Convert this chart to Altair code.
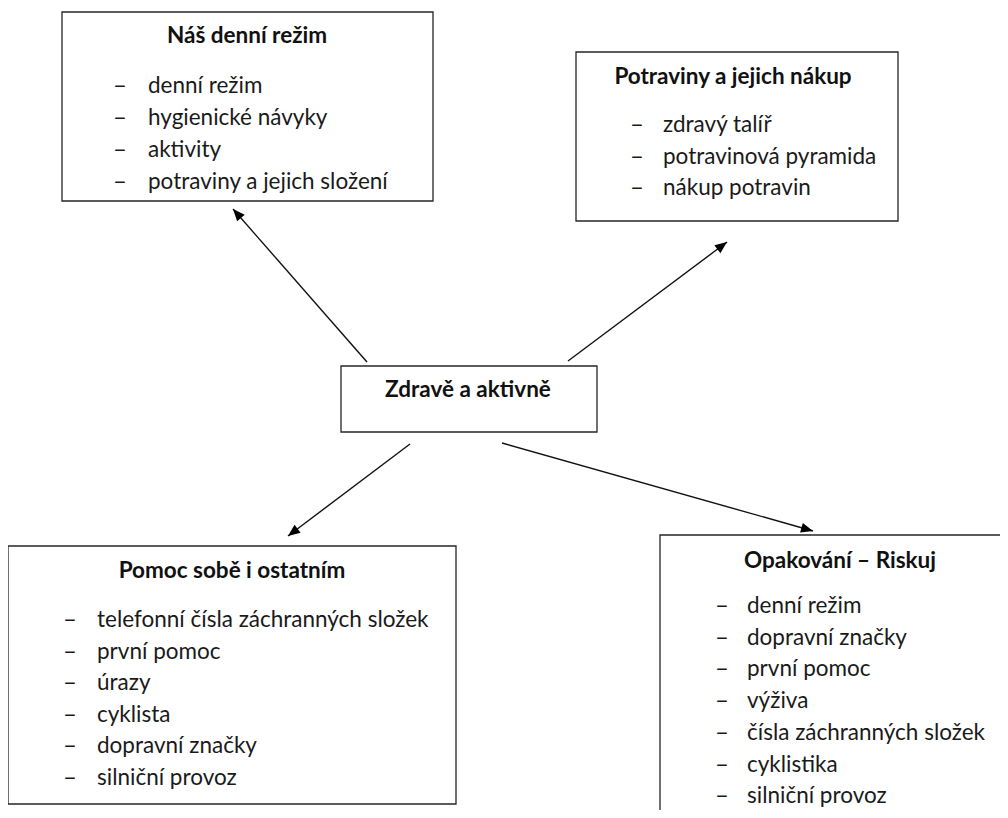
import math
import altair as alt
import pandas as pd

# ---- content (text values) ----
titles = ["Náš denní režim", "Potraviny a jejich nákup", "Zdravě a aktivně",
          "Pomoc sobě i ostatním", "Opakování – Riskuj"]
items_1 = ["denní režim", "hygienické návyky", "aktivity", "potraviny a jejich složení"]
items_2 = ["zdravý talíř", "potravinová pyramida", "nákup potravin"]
items_3 = []
items_4 = ["telefonní čísla záchranných složek", "první pomoc", "úrazy", "cyklista",
           "dopravní značky", "silniční provoz"]
items_5 = ["denní režim", "dopravní značky", "první pomoc", "výživa",
           "čísla záchranných složek", "cyklistika", "silniční provoz"]
items = [items_1, items_2, items_3, items_4, items_5]

# ---- layout (page pixel coordinates) ----
box_x = [62, 576, 341, 8, 660]
box_x2 = [433, 898, 597, 456, 1015]
box_y = [12, 52, 366, 546, 535]
box_y2 = [201, 221, 432, 804, 830]
title_cx = [247, 733, 468, 232, 840]
title_base = [43, 84, 397, 578, 568]
dash_x = [113, 630, 0, 63, 715]
text_x = [148, 663, 0, 97, 747]
first_base = [93, 132, 0, 627, 613]
line_step = [32, 31.5, 0, 31.6, 31.7]

arrow_from_x = [367, 568, 410, 502]
arrow_from_y = [362, 361, 444, 443]
arrow_to_x = [233, 727, 288, 813]
arrow_to_y = [209, 242, 536, 531]

W, H = 992, 802
X0, Y0 = 8, 8
xs = alt.Scale(domain=[X0, X0 + W], nice=False, zero=False)
ys = alt.Scale(domain=[Y0, Y0 + H], nice=False, zero=False, reverse=True)

boxes = pd.DataFrame({"x": box_x, "x2": box_x2, "y": box_y, "y2": box_y2})
title_df = pd.DataFrame({"x": title_cx, "y": title_base, "t": titles})

rows, dashes = [], []
for i, lst in enumerate(items):
    for k, t in enumerate(lst):
        yb = first_base[i] + k * line_step[i]
        rows.append({"x": text_x[i], "y": yb, "t": t})
        dashes.append({"x": dash_x[i], "y": yb, "t": "–"})
item_df = pd.DataFrame(rows)
dash_df = pd.DataFrame(dashes)

arr = pd.DataFrame({"x": arrow_from_x, "y": arrow_from_y,
                    "x2": arrow_to_x, "y2": arrow_to_y})
arr["angle"] = [
    (math.degrees(math.atan2(tx - fx, -(ty - fy))) + 360) % 360
    for fx, fy, tx, ty in zip(arrow_from_x, arrow_from_y, arrow_to_x, arrow_to_y)
]

X = lambda f: alt.X(f, scale=xs, axis=None)
Y = lambda f: alt.Y(f, scale=ys, axis=None)

rect_layer = alt.Chart(boxes).mark_rect(
    fill="white", stroke="#262626", strokeWidth=1.3, clip=True
).encode(x=X("x:Q"), x2="x2:Q", y=Y("y:Q"), y2="y2:Q")

rule_layer = alt.Chart(arr).mark_rule(color="#111", strokeWidth=1.4).encode(
    x=X("x:Q"), y=Y("y:Q"), x2="x2:Q", y2="y2:Q"
)

head_layer = alt.Chart(arr).mark_point(
    shape="M0,0L-0.42,1L0.42,1Z", filled=True, color="black",
    size=576, opacity=1, strokeWidth=0
).encode(x=X("x2:Q"), y=Y("y2:Q"), angle=alt.Angle("angle:Q", scale=None))

title_layer = alt.Chart(title_df).mark_text(
    font="Lato", fontSize=22.5, fontWeight="bold", align="center",
    baseline="alphabetic", color="#111"
).encode(x=X("x:Q"), y=Y("y:Q"), text="t:N")

item_layer = alt.Chart(item_df).mark_text(
    font="Lato", fontSize=22.5, align="left", baseline="alphabetic", color="#1a1a1a"
).encode(x=X("x:Q"), y=Y("y:Q"), text="t:N")

dash_layer = alt.Chart(dash_df).mark_text(
    font="Lato", fontSize=24, align="left", baseline="alphabetic", color="#1a1a1a"
).encode(x=X("x:Q"), y=Y("y:Q"), text="t:N")

chart = alt.layer(rect_layer, rule_layer, head_layer, title_layer, item_layer,
                  dash_layer).properties(
    width=W, height=H, padding=0, background="white",
    autosize=alt.AutoSizeParams(type="none")
).configure_view(stroke=None)

chart.save("out.html", embed_options={"renderer": "svg", "actions": False})
